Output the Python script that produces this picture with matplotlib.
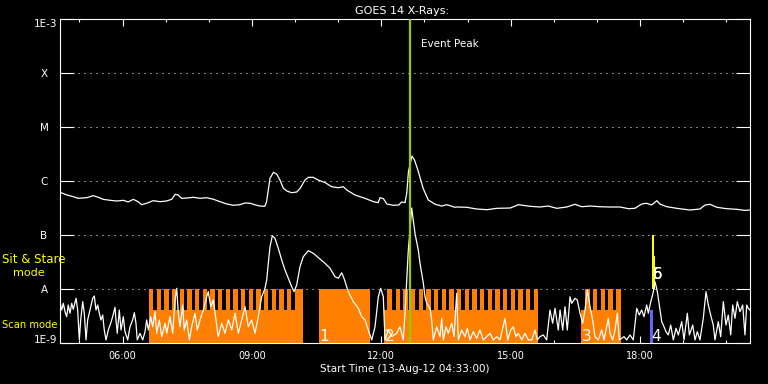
import matplotlib
matplotlib.use('Agg')
import matplotlib.pyplot as plt
from matplotlib.ticker import FixedLocator, NullFormatter, NullLocator

START_H = 4.55   # 04:33 UT
END_H = 20.55

# GOES 1-8 A channel: UT hours, W/m^2
long_t = [4.55, 4.71, 4.86, 4.97, 5.17, 5.32, 5.44, 5.55, 5.71, 5.87, 6.02, 6.13, 6.25, 6.37,
          6.44, 6.56, 6.71, 6.87, 7.02, 7.14, 7.22, 7.29, 7.37, 7.49, 7.64, 7.80, 7.95, 8.11,
          8.26, 8.42, 8.57, 8.72, 8.84, 8.96, 9.11, 9.19, 9.30, 9.34, 9.38, 9.42, 9.50, 9.58,
          9.65, 9.73, 9.81, 9.92, 10.04, 10.12, 10.23, 10.31, 10.42, 10.54, 10.70, 10.85, 11.00,
          11.12, 11.20, 11.39, 11.62, 11.82, 11.93, 11.97, 12.05, 12.13, 12.28, 12.41, 12.47,
          12.55, 12.59, 12.63, 12.71, 12.77, 12.86, 12.97, 13.09, 13.25, 13.40, 13.52, 13.71,
          13.75, 13.98, 14.21, 14.45, 14.68, 14.99, 15.18, 15.45, 15.68, 15.87, 16.07, 16.30,
          16.49, 16.65, 16.84, 17.07, 17.30, 17.54, 17.73, 17.88, 18.04, 18.15, 18.27, 18.39,
          18.46, 18.62, 18.85, 19.16, 19.39, 19.51, 19.62, 19.78, 20.01, 20.24, 20.43, 20.55]
long_flux = [6.18e-7, 5.51e-7, 5.12e-7, 4.78e-7, 4.91e-7, 5.35e-7, 4.99e-7, 4.58e-7, 4.39e-7,
             4.26e-7, 4.39e-7, 4.09e-7, 4.58e-7, 4.09e-7, 3.64e-7, 3.87e-7, 4.32e-7, 4.14e-7,
             4.26e-7, 4.58e-7, 5.67e-7, 5.51e-7, 4.78e-7, 4.84e-7, 4.99e-7, 4.78e-7, 4.91e-7,
             4.58e-7, 4.14e-7, 3.75e-7, 3.55e-7, 3.64e-7, 3.92e-7, 3.87e-7, 3.55e-7, 3.44e-7,
             3.40e-7, 4.14e-7, 6.81e-7, 1.12e-6, 1.45e-6, 1.33e-6, 1.04e-6, 7.33e-7, 6.53e-7,
             6.07e-7, 6.25e-7, 7.33e-7, 1.04e-6, 1.17e-6, 1.17e-6, 1.04e-6, 9.31e-7, 7.84e-7,
             7.51e-7, 7.84e-7, 6.81e-7, 5.51e-7, 4.78e-7, 4.14e-7, 3.97e-7, 4.91e-7, 4.70e-7,
             3.75e-7, 3.55e-7, 3.60e-7, 4.09e-7, 3.97e-7, 5.92e-7, 1.49e-6, 2.90e-6, 2.45e-6,
             1.49e-6, 7.33e-7, 4.45e-7, 3.70e-7, 3.44e-7, 3.64e-7, 3.26e-7, 3.30e-7, 3.26e-7,
             3.03e-7, 2.94e-7, 3.12e-7, 3.16e-7, 3.64e-7, 3.40e-7, 3.30e-7, 3.44e-7, 3.12e-7,
             3.30e-7, 3.70e-7, 3.34e-7, 3.44e-7, 3.34e-7, 3.30e-7, 3.30e-7, 3.07e-7, 3.12e-7,
             3.75e-7, 3.87e-7, 3.60e-7, 4.32e-7, 3.75e-7, 3.34e-7, 3.12e-7, 2.90e-7, 3.03e-7,
             3.60e-7, 3.70e-7, 3.26e-7, 3.07e-7, 2.99e-7, 2.86e-7, 2.90e-7]

# GOES 0.5-4 A channel: minutes after 04:33, flux in 1e-9 W/m^2
short_min = [0.0, 2.4, 4.6, 7.0, 9.3, 11.5, 13.9, 16.3, 18.5, 22.3, 24.6, 26.9, 28.8, 31.6, 33.8,
             36.2, 38.5, 41.7, 45.5, 47.7, 50.1, 52.5, 54.7, 57.0, 59.4, 61.6, 64.0, 67.2, 70.5,
             73.3, 76.5, 77.9, 79.7, 82.5, 84.9, 88.1, 90.4, 94.2, 97.4, 101.1, 103.4, 105.7,
             107.5, 111.3, 115.1, 118.3, 120.6, 122.9, 126.2, 129.0, 132.2, 134.5, 138.2, 141.5,
             146.1, 148.5, 153.0, 156.8, 160.0, 162.4, 164.6, 167.0, 170.7, 172.9, 176.3, 179.9,
             183.2, 187.8, 191.0, 194.8, 199.4, 204.1, 206.3, 209.7, 213.3, 217.0, 220.2, 225.0,
             229.6, 234.2, 238.9, 243.5, 248.1, 252.8, 257.4, 262.0, 266.7, 271.3,
             275.9, 280.6, 285.2, 287.6, 289.8, 292.2, 295.4, 299.1, 303.7, 308.5, 313.0, 317.6,
             322.4, 325.6, 329.3, 333.9, 338.5, 345.5, 352.4, 361.7, 368.7, 375.7, 382.6, 387.2,
             391.9, 395.1, 401.1, 408.1, 415.0, 419.8, 424.4, 428.9, 433.7, 438.3, 442.9, 446.2,
             449.8, 452.2, 456.8, 461.5, 468.5, 473.0, 477.6, 480.0, 482.4, 484.6, 487.0, 489.3,
             491.5, 493.9, 498.5, 500.9, 503.2, 505.5, 507.8, 510.2, 514.8, 517.1, 519.4,
             524.1, 528.7, 531.1, 533.3, 537.0, 540.2, 545.0, 548.2, 551.9, 554.2, 558.9, 563.5,
             566.7, 570.4, 575.0, 579.7, 584.3, 588.9, 593.7, 598.3, 602.9, 607.6, 612.2, 619.1,
             622.9, 627.1, 630.7, 634.4, 637.6, 642.4, 647.0, 651.5, 656.3, 660.9, 664.1, 667.8,
             672.4, 677.1, 681.7, 685.4, 688.7, 693.3, 695.7, 699.4, 702.6, 705.8, 709.6, 711.9,
             716.5, 719.7, 723.5, 727.2, 730.4, 733.7, 737.4, 741.1, 744.3, 749.0, 753.7, 756.9,
             762.9, 765.2, 769.0, 772.2, 775.4, 778.2, 784.7, 788.5, 793.0, 797.6, 802.4, 806.0,
             809.3, 812.5, 816.3, 818.5, 820.9, 825.5, 827.9, 831.1, 833.8, 837.2, 839.4, 843.1,
             846.3, 849.7, 853.3, 857.1, 860.3, 865.0, 868.2, 872.8, 875.6, 880.3, 883.5, 886.7,
             890.4, 895.0, 898.8, 902.0, 905.3, 908.9, 911.3, 915.9, 919.2, 922.9, 926.6, 929.8,
             933.2, 935.9, 939.1, 942.3, 946.1, 949.8, 953.0, 955.4, 957.6, 960.0]
short_nW = [5.82, 4.08, 5.43, 3.80, 3.07, 5.05, 3.55, 5.43, 4.21, 6.73, 4.08, 1.14, 2.67, 5.82, 3.55,
            1.14, 2.67, 4.08, 6.73, 7.42, 4.08, 5.05, 3.55, 2.67, 3.30, 1.74, 1.14, 1.74, 2.32,
            3.07, 4.58, 2.67, 1.51, 4.08, 1.74, 3.07, 1.62, 1.14, 2.00, 2.67, 3.64, 2.32,
            1.14, 1.51, 1.14, 1.62, 2.67, 1.74, 3.07, 2.00, 3.80, 1.51, 2.67, 1.31,
            2.32, 1.51, 3.07, 1.51, 6.25, 10.3, 3.55, 2.00, 5.05, 1.74, 2.67, 1.14,
            2.00, 3.55, 1.74, 2.67, 4.08, 7.20, 8.91, 4.70, 6.25, 2.67, 1.31, 2.32,
            1.51, 2.67, 1.74, 3.55, 1.51, 2.67, 4.70, 2.00, 2.67, 1.51,
            3.07, 7.20, 10.3, 14.7, 29.9, 60.7, 97.0, 86.9, 56.7, 34.4, 22.5, 15.8,
            11.0, 8.91, 11.9, 25.9, 39.6, 51.2, 45.8, 35.9, 29.9, 24.2, 16.9, 15.8,
            20.0, 15.8, 8.91, 5.82, 4.39, 3.07, 2.67, 1.74, 1.14, 2.00, 7.20, 10.3,
            7.20, 1.14, 1.74, 1.31, 1.51, 2.00, 1.14, 3.55, 14.7, 52.7, 124.0, 316.0,
            190.0, 107.0, 52.7, 29.9, 19.5, 12.8, 7.20, 5.43, 4.39, 2.67, 1.14,
            2.00, 1.31, 2.87, 1.14, 2.00, 1.51, 2.32, 1.31, 8.32, 1.14, 1.74, 1.31,
            1.87, 1.14, 1.62, 1.22, 1.74, 1.14, 1.31, 1.51, 1.14, 1.31, 1.14, 2.87,
            1.14, 1.74, 2.00, 1.31, 1.51, 1.14, 1.51, 1.14, 1.14, 1.74, 1.14, 1.31,
            1.41, 1.14, 4.08, 2.32, 4.39, 1.74, 4.08, 1.74, 4.70, 1.74, 7.20, 5.43,
            6.73, 6.25, 3.55, 2.32, 4.08, 9.58, 4.70, 2.67, 1.31, 1.14, 1.74, 1.14,
            2.87, 1.51, 1.14, 1.74, 3.55, 1.14, 1.31, 1.14, 1.41, 1.14, 4.39, 3.30,
            4.08, 3.07, 5.05, 3.55, 5.05, 8.91, 13.6, 8.91, 5.05, 2.48, 2.15, 1.62,
            1.41, 2.15, 1.14, 1.87, 1.41, 2.48, 1.14, 3.55, 1.41, 2.15, 1.14, 1.62,
            1.14, 2.87, 8.91, 5.05, 3.30, 2.15, 1.14, 2.48, 1.31, 5.82, 2.15, 3.30,
            1.41, 5.05, 2.87, 5.82, 3.80, 5.05, 1.41, 5.05, 4.39, 4.08]

# Scan-mode observation blocks (minutes after 04:33)
scan_start_min = [123.4, 360.3, 451.2, 725.3]
scan_end_min = [338.5, 431.3, 664.6, 780.1]
raster_start_min = [123.4, 360.3, 455.0, 730.4]
raster_gaps_min = [
    [129.8, 140.5, 151.2, 161.8, 172.5, 183.2, 193.8, 204.5, 215.2, 225.8, 236.5, 247.2,
     257.8, 268.5, 279.2, 289.8, 300.5, 311.2, 321.8],
    [],
    [462.3, 473.0, 483.7, 494.3, 505.0, 515.7, 526.3, 537.0, 547.7, 558.3, 569.0, 579.7,
     590.3, 601.0, 611.7, 622.3, 633.0, 643.7, 654.3],
    [737.0, 747.7, 758.3, 769.0],
]
scan_labels = ['', '1', '2', '3']
GAP_LEN = 4.6

# Short scan 4 (blue) and sit & stare 5, 6 (yellow)
blue_start_min, blue_end_min = 820.9, 825.1
stare_start_min = [823.7, 826.4]
stare_end_min = [826.4, 828.3]
stare_top = [1e-7, 4.08e-8]
stare_labels = ['5', '6']

event_peak_min = 487.0

SCAN_BASE = 1e-9
SCAN_MID = 4.1e-9
SCAN_TOP = 1e-8

ORANGE = '#ff8000'
YELLOW = '#ffff00'
GREEN = '#99cc00'
BLUE = '#6464ff'

def to_h(m):
    return START_H + m / 60.0

fig = plt.figure(figsize=(7.68, 3.84), dpi=100, facecolor='black')
ax = fig.add_axes([60/768, 1-343/384, 690/768, 324/384], facecolor='black')
ax.set_yscale('log')
ax.set_ylim(1e-9, 1e-3)
ax.set_xlim(START_H, END_H)
ax.set_axisbelow(True)

# scan mode bars
for s, e, rs, gaps in zip(scan_start_min, scan_end_min, raster_start_min, raster_gaps_min):
    ax.bar(to_h(s), SCAN_MID - SCAN_BASE, width=(e - s) / 60, bottom=SCAN_BASE,
           align='edge', color=ORANGE, linewidth=0, zorder=1)
    left = rs
    for g in gaps + [e]:
        right = min(g, e)
        if right > left:
            ax.bar(to_h(left), SCAN_TOP - SCAN_MID, width=(right - left) / 60, bottom=SCAN_MID,
                   align='edge', color=ORANGE, linewidth=0, zorder=1)
        left = g + GAP_LEN
for s, lab in zip(scan_start_min, scan_labels):
    if lab:
        ax.text(to_h(s + 1.0), 1.1e-9, lab, color='white', fontsize=11, ha='left',
                va='baseline', zorder=6)

ax.bar(to_h(blue_start_min), SCAN_MID - SCAN_BASE, width=(blue_end_min - blue_start_min) / 60,
       bottom=SCAN_BASE, align='edge', color=BLUE, linewidth=0, zorder=2)
ax.text(to_h(blue_start_min + 1.5), 1.1e-9, '4', color='white', fontsize=11, ha='left',
        va='baseline', zorder=6)
for s, e, top in zip(stare_start_min, stare_end_min, stare_top):
    ax.bar(to_h(s), top - SCAN_TOP, width=(e - s) / 60, bottom=SCAN_TOP,
           align='edge', color=YELLOW, linewidth=0, zorder=2)
for lab in stare_labels:
    ax.text(to_h(stare_start_min[0] + 1.5), 1.5e-8, lab, color='white', fontsize=11,
            ha='left', va='baseline', zorder=6)

# curves
ax.plot(long_t, long_flux, color='white', lw=0.9, zorder=3)
ax.plot([to_h(m) for m in short_min], [v * 1e-9 for v in short_nW], color='white', lw=0.9, zorder=3)

# event peak
ax.axvline(to_h(event_peak_min), color=GREEN, lw=1.6, zorder=4)
ax.annotate('Event Peak', xy=(to_h(event_peak_min), 1e-3), xytext=(7.7, -20),
            textcoords='offset points', color='white', fontsize=7.5, ha='left',
            va='baseline', zorder=6)

# axes styling
for sp in ax.spines.values():
    sp.set_color('white')
    sp.set_linewidth(0.8)
ax.yaxis.set_major_locator(FixedLocator([1e-9, 1e-8, 1e-7, 1e-6, 1e-5, 1e-4, 1e-3]))
ax.yaxis.set_minor_locator(NullLocator())
ax.yaxis.set_major_formatter(NullFormatter())
ax.tick_params(axis='y', which='major', direction='in', length=10, width=0.8,
               color='white', left=True, right=True)
ax.grid(axis='y', color='white', linestyle=(0, (1, 5)), linewidth=0.72)

major_h = [6, 9, 12, 15, 18]
major_lab = ['06:00', '09:00', '12:00', '15:00', '18:00']
ax.xaxis.set_major_locator(FixedLocator(major_h))
ax.xaxis.set_minor_locator(FixedLocator(list(range(5, 21))))
ax.set_xticklabels(major_lab)
ax.tick_params(axis='x', which='major', direction='in', length=4.7, width=0.8, color='white',
               top=True, bottom=True, labelcolor='white', labelsize=7, pad=5.5)
ax.tick_params(axis='x', which='minor', direction='in', length=2.5, width=0.8, color='white',
               top=True, bottom=True)

# y labels
yt = ax.get_yaxis_transform()
for lev, lab in zip([1e-8, 1e-7, 1e-6, 1e-5, 1e-4], ['A', 'B', 'C', 'M', 'X']):
    ax.annotate(lab, xy=(-16/690, lev), xycoords=yt, xytext=(0, -3.2), textcoords='offset points',
                color='white', fontsize=7.5, ha='center', va='baseline')
ax.annotate('1E-3', xy=(-3/690, 1e-3), xycoords=yt, xytext=(0, -6), textcoords='offset points',
            color='white', fontsize=7.5, ha='right', va='baseline')
ax.annotate('1E-9', xy=(-3/690, 1e-9), xycoords=yt, xytext=(0, 0), textcoords='offset points',
            color='white', fontsize=7.5, ha='right', va='baseline')

# figure texts
fig.text(402/768, 1 - 14/384, 'GOES 14 X-Rays:', color='white', fontsize=8, ha='center', va='baseline')
fig.text(405/768, 1 - 372/384, 'Start Time (13-Aug-12 04:33:00)', color='white', fontsize=7.5,
         ha='center', va='baseline')
fig.text(1.7/768, 1 - 263/384, 'Sit & Stare', color=YELLOW, fontsize=8.5, ha='left', va='baseline')
fig.text(12.7/768, 1 - 275.5/384, 'mode', color=YELLOW, fontsize=8, ha='left', va='baseline')
fig.text(1.7/768, 1 - 328/384, 'Scan mode', color=YELLOW, fontsize=7.2, ha='left', va='baseline')

fig.savefig('out.png', dpi=100, facecolor='black')
